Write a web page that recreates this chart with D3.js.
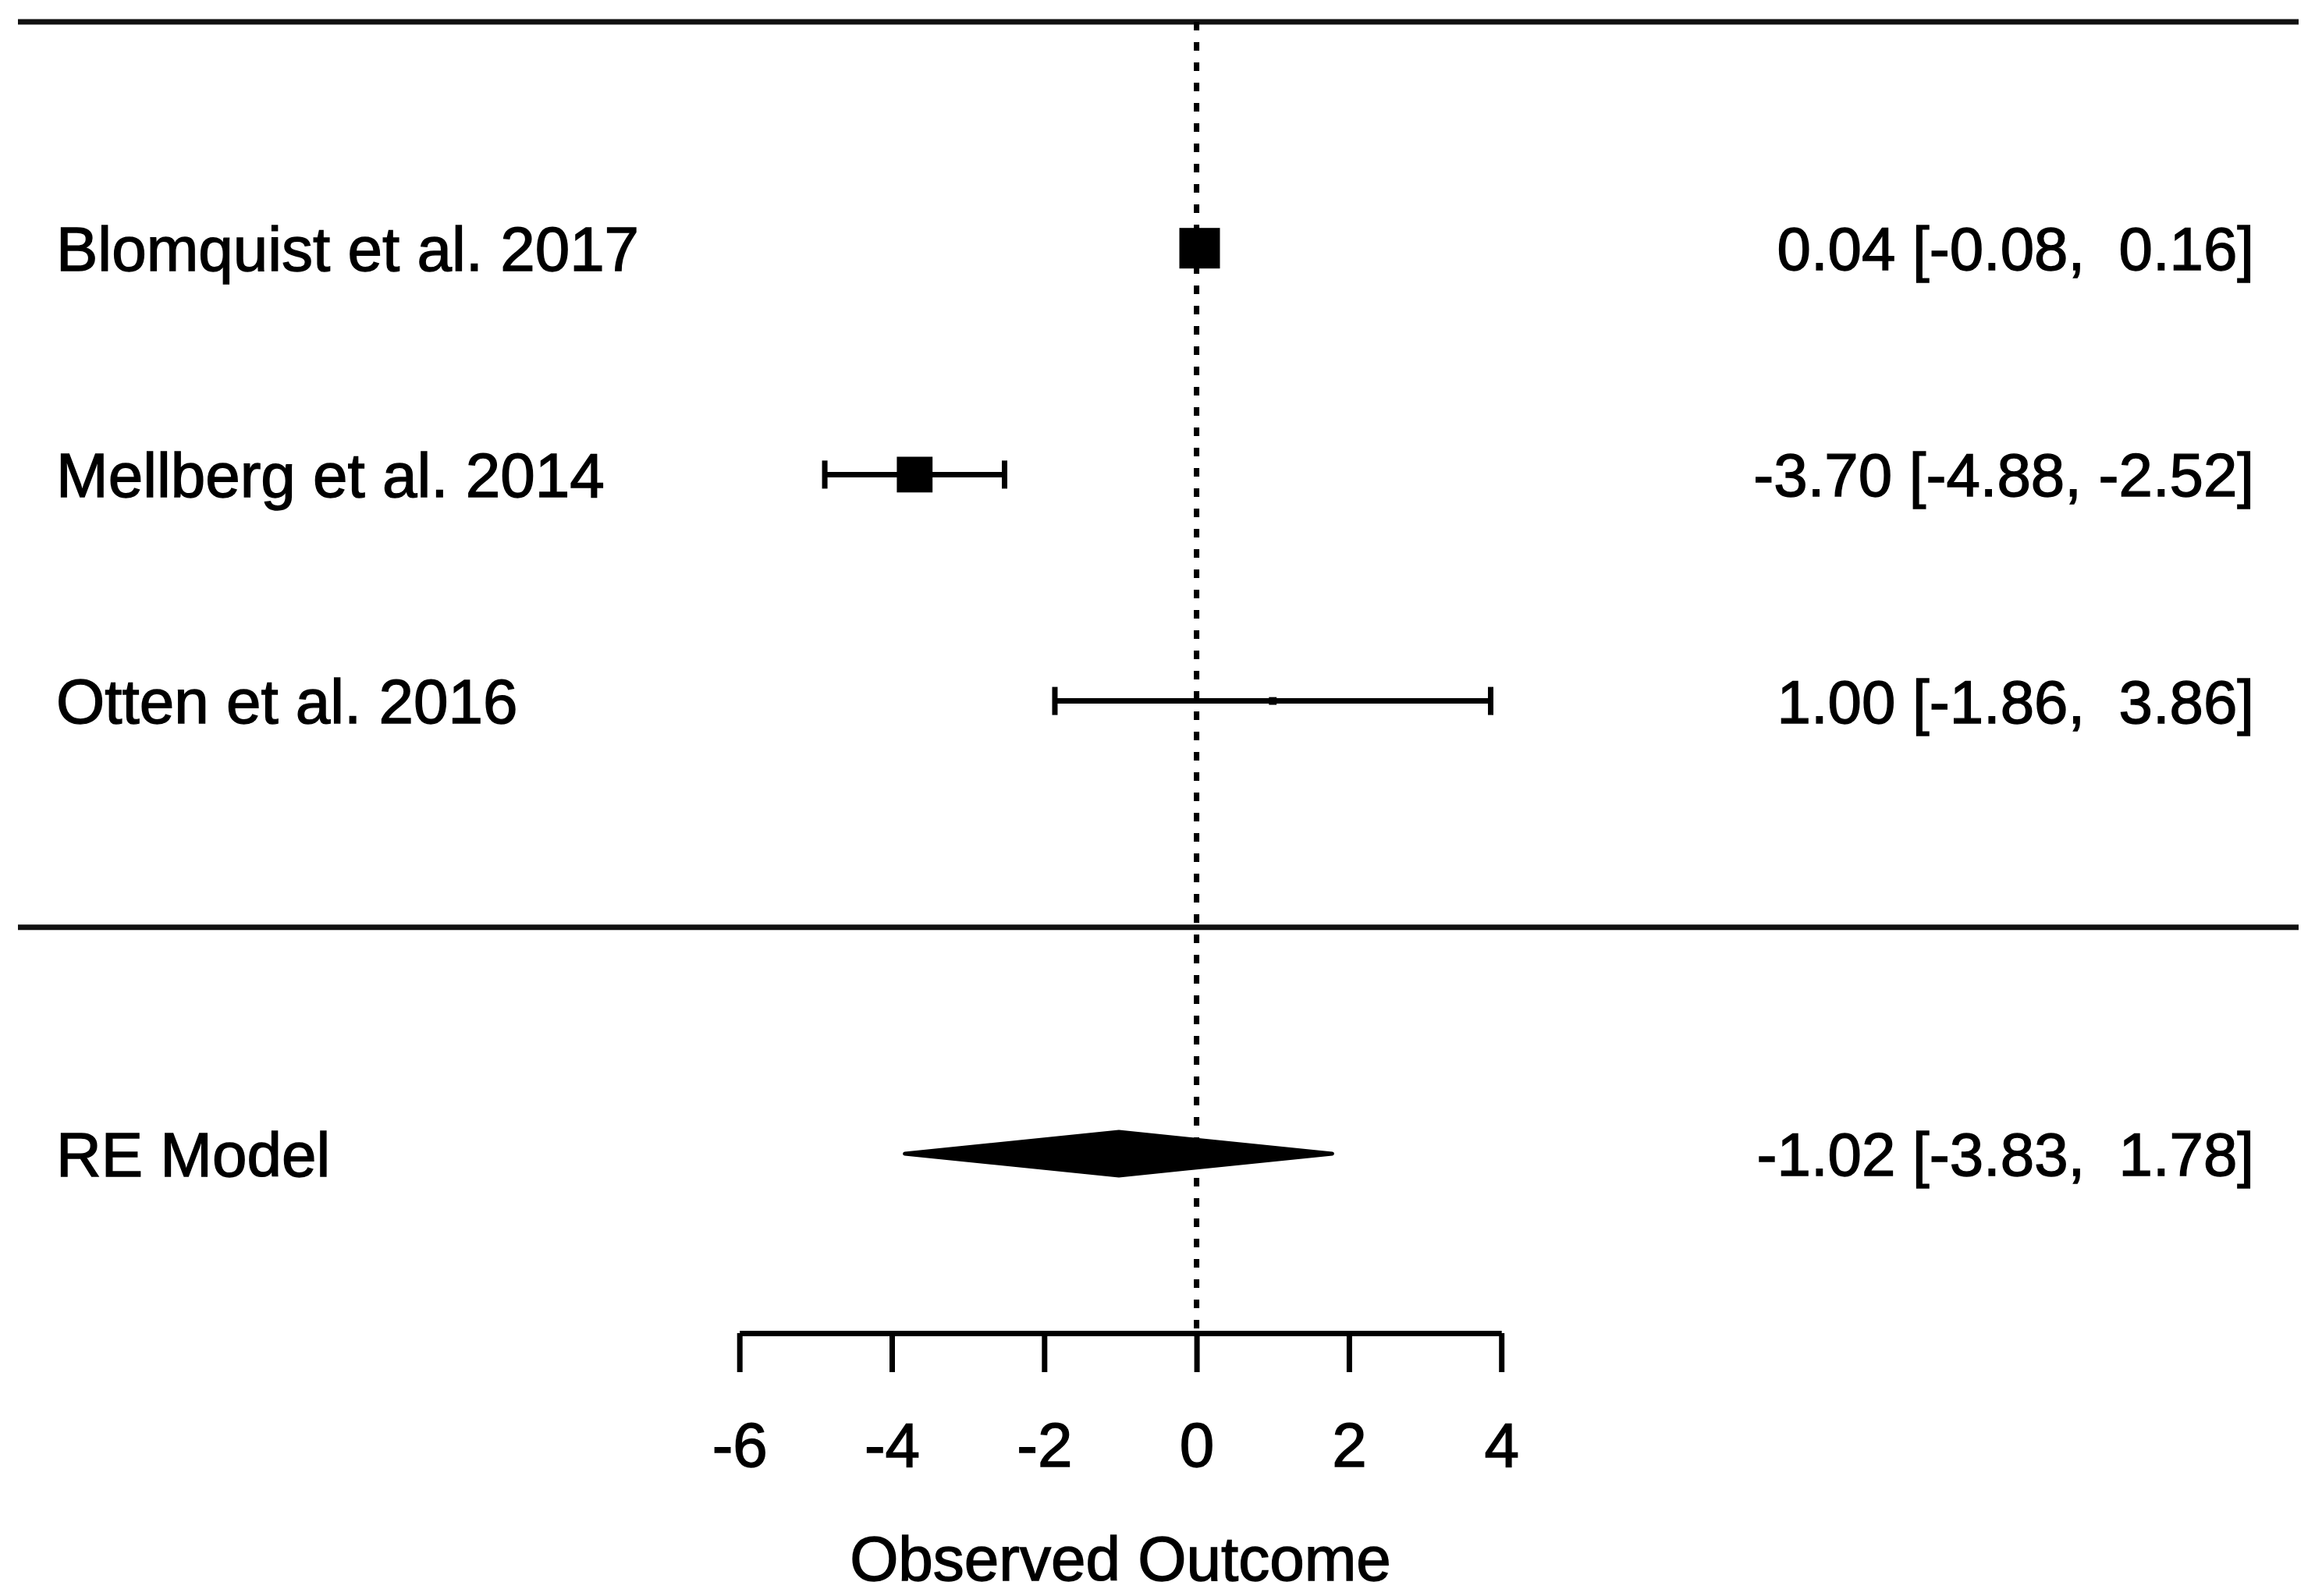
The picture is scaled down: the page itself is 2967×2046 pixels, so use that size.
<!DOCTYPE html>
<html>
<head>
<meta charset="utf-8">
<script src="https://cdn.jsdelivr.net/npm/d3@7"></script>
<style>
  html, body { margin: 0; padding: 0; background: #fff; }
  svg { display: block; }
  text { font-family: "Liberation Sans", Arial, sans-serif; fill: #000; white-space: pre; stroke: #000; stroke-width: 1.4px; }
</style>
</head>
<body>
<svg id="chart" width="2967" height="2046"></svg>
<script>
// ---- data ----
const studies   = ["Blomquist et al. 2017", "Mellberg et al. 2014", "Otten et al. 2016"];
const estimates = [0.04, -3.70, 1.00];
const ciLower   = [-0.08, -4.88, -1.86];
const ciUpper   = [0.16, -2.52, 3.86];
const weights   = [1.00, 0.88, 0.19];   // relative marker size read from the squares
const summaryLabel = "RE Model";
const summary   = { est: -1.02, lo: -3.83, hi: 1.78 };
const tickValues = [-6, -4, -2, 0, 2, 4];
const axisTitle = "Observed Outcome";

// ---- layout ----
const svg = d3.select("#chart");

const x = d3.scaleLinear().domain([-6, 4]).range([947.7, 1924.2]);
// metafor-style rows: studies at k..1, separator at 0, summary at -1, top line at k+1
const k = studies.length;
const y = d3.scaleLinear().domain([k + 1, -1]).range([28, 1479]);
const size = d3.scaleLinear().domain([0, 1]).range([0, 52]);

const lineLeft = 23, lineRight = 2946;
const axisY = 1709;
const lw = 7;
const fontSize = 80;
const annotSize = 78;

// horizontal lines (top & separator)
svg.selectAll("line.hline").data([k + 1, 0]).enter().append("line")
  .attr("class", "hline")
  .attr("x1", lineLeft).attr("x2", lineRight)
  .attr("y1", d => y(d)).attr("y2", d => y(d))
  .attr("stroke", "#111").attr("stroke-width", lw);

// reference line at 0 (dotted)
svg.append("line")
  .attr("x1", x(0)).attr("x2", x(0))
  .attr("y1", y(k + 1)).attr("y2", axisY)
  .attr("stroke", "#000").attr("stroke-width", 7)
  .attr("stroke-dasharray", "11,15");

// study rows
const rows = studies.map((s, i) => ({
  label: s, est: estimates[i], lo: ciLower[i], hi: ciUpper[i], w: weights[i], row: k - i
}));

const g = svg.append("g");
const capH = 18;

rows.forEach(d => {
  const cy = y(d.row);
  g.append("line")
    .attr("x1", x(d.lo)).attr("x2", x(d.hi)).attr("y1", cy).attr("y2", cy)
    .attr("stroke", "#000").attr("stroke-width", lw);
  [d.lo, d.hi].forEach(v => {
    g.append("line")
      .attr("x1", x(v)).attr("x2", x(v)).attr("y1", cy - capH).attr("y2", cy + capH)
      .attr("stroke", "#000").attr("stroke-width", lw);
  });
  const s = size(d.w);
  g.append("rect")
    .attr("x", x(d.est) - s / 2).attr("y", cy - s / 2)
    .attr("width", s).attr("height", s)
    .attr("fill", "#000");
});

// summary diamond
const dh = 28;
const sy = y(-1);
svg.append("path")
  .attr("d", d3.line()([
    [x(summary.lo), sy], [x(summary.est), sy - dh],
    [x(summary.hi), sy], [x(summary.est), sy + dh]
  ]) + "Z")
  .attr("fill", "#000").attr("stroke", "#000").attr("stroke-width", 5)
  .attr("stroke-linejoin", "round");

// labels (left)
const labelData = rows.map(d => ({ text: d.label, row: d.row }))
  .concat([{ text: summaryLabel, row: -1 }]);
svg.selectAll("text.lab").data(labelData).enter().append("text")
  .attr("class", "lab")
  .attr("x", 72).attr("y", d => y(d.row))
  .attr("dy", "0.36em")
  .attr("font-size", fontSize)
  .text(d => d.text);

// annotations (right)
const f = v => v.toFixed(2);
const pad = (s, n) => " ".repeat(Math.max(0, n - s.length)) + s;
const annot = d => `${f(d.est)} [${pad(f(d.lo), 5)}, ${pad(f(d.hi), 5)}]`;
const annData = rows.map(d => ({ text: annot(d), row: d.row }))
  .concat([{ text: annot(summary), row: -1 }]);
svg.selectAll("text.ann").data(annData).enter().append("text")
  .attr("class", "ann")
  .attr("x", 2889).attr("y", d => y(d.row))
  .attr("dy", "0.36em")
  .attr("text-anchor", "end")
  .attr("font-size", annotSize)
  .text(d => d.text);

// x axis
const axis = d3.axisBottom(x)
  .tickValues(tickValues)
  .tickFormat(d => String(d))
  .tickSize(50)
  .tickSizeOuter(0)
  .tickPadding(64);
const ax = svg.append("g").attr("transform", `translate(0,${axisY})`).call(axis);
ax.select(".domain").attr("stroke", "#000").attr("stroke-width", lw);
ax.selectAll(".tick line").attr("stroke", "#000").attr("stroke-width", lw);
ax.selectAll(".tick text")
  .attr("font-size", fontSize)
  .attr("font-family", '"Liberation Sans", Arial, sans-serif')
  .attr("fill", "#000");

svg.append("text")
  .attr("x", (x.range()[0] + x.range()[1]) / 2)
  .attr("y", 2026)
  .attr("text-anchor", "middle")
  .attr("font-size", fontSize)
  .text(axisTitle);
</script>
</body>
</html>
